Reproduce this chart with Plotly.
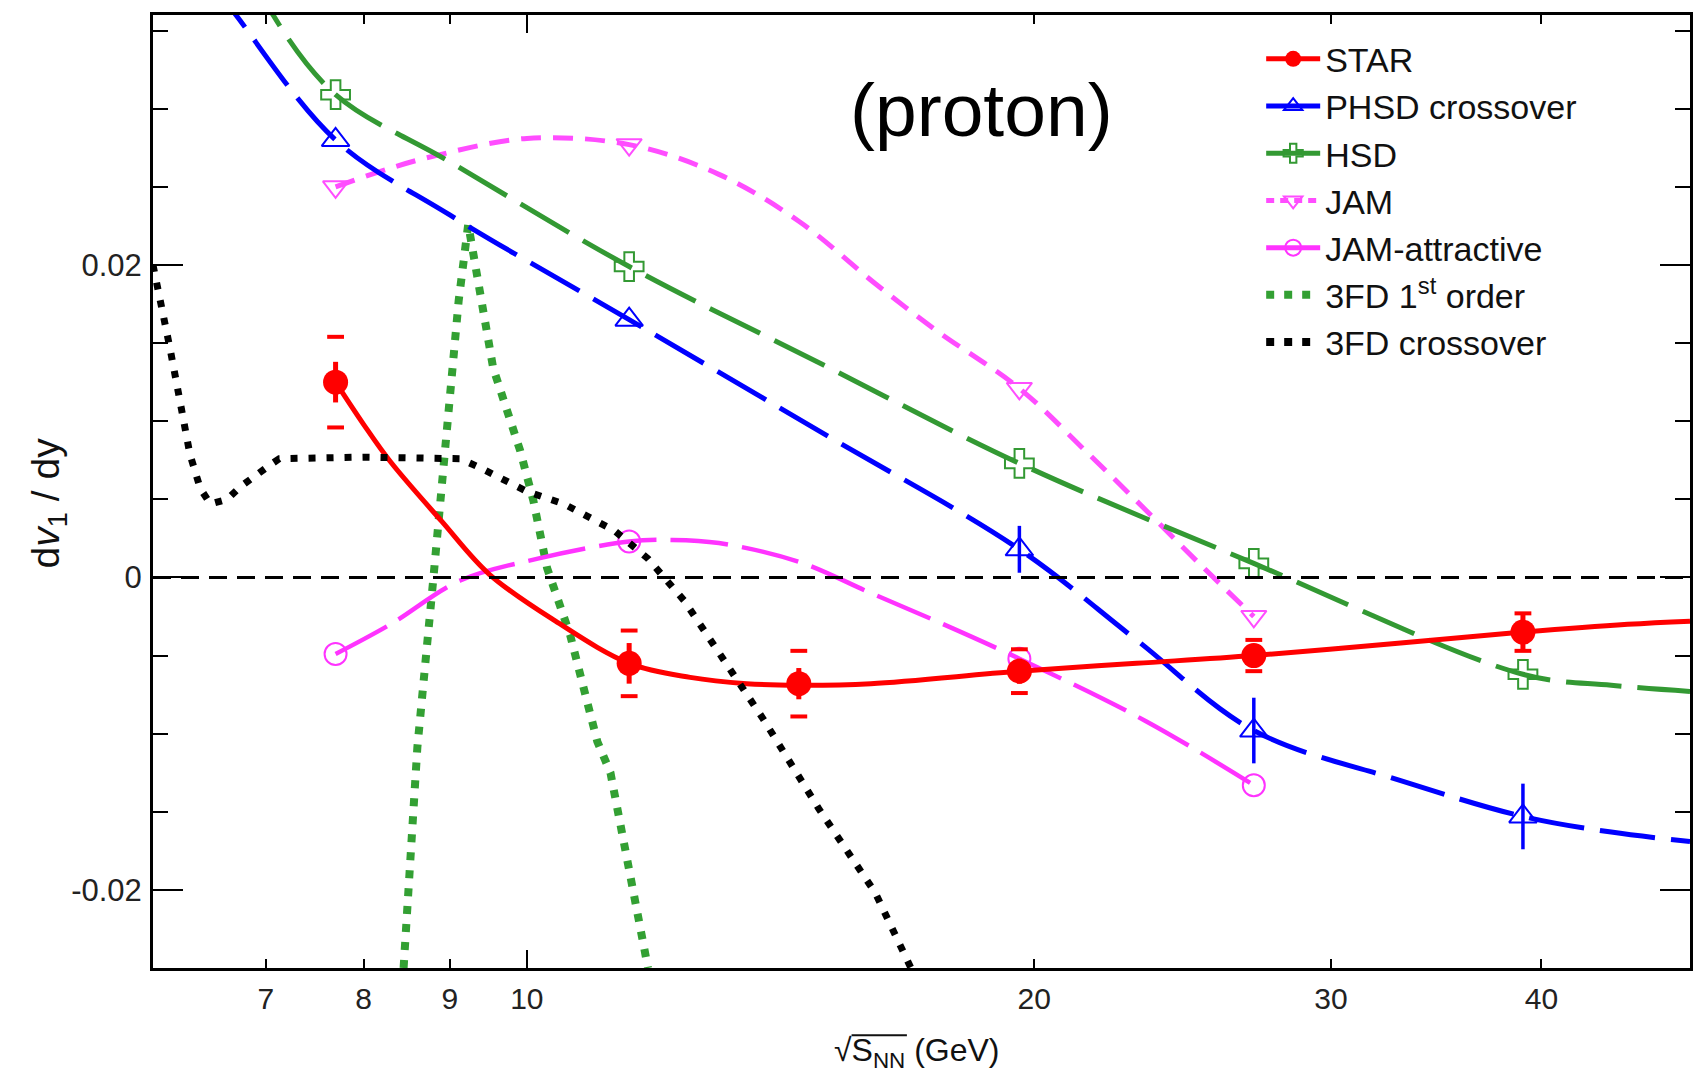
import numpy as np
import plotly.graph_objects as go

# ---------------- data ----------------
energies = [7.7, 11.5, 14.5, 19.6, 27, 39]
star_y = [0.0125, -0.0055, -0.0068, -0.0060, -0.0050, -0.0035]
star_stat = [0.0013, 0.0013, 0.0010, 0.0008, 0.0006, 0.0011]
star_sys = [0.0029, 0.0021, 0.0021, 0.0014, 0.0010, 0.0012]
star_fit_x = [7.7, 8.0, 8.3, 8.9, 9.5, 10.4, 11.5, 12.5, 13.5, 14.5, 16, 19.6, 23, 27, 33, 39, 45, 49]
star_fit_y = [0.0125, 0.0098, 0.0074, 0.0036, 0.0002, -0.0028, -0.0055, -0.0064, -0.0068, -0.0069,
              -0.0068, -0.0060, -0.0055, -0.0050, -0.0042, -0.0035, -0.0030, -0.0028]

model_e = [7.7, 11.5, 19.6, 27, 39]
phsd_y = [0.0280, 0.0165, 0.0018, -0.0098, -0.0153]
phsd_err = [0.0, 0.0, 0.0015, 0.0021, 0.0021]
phsd_curve_x = [6.5, 6.72, 7.7, 9.0, 11.5, 15, 19.6, 23, 27, 33, 39, 44, 49]
phsd_curve_y = [0.0381, 0.0360, 0.0280, 0.0232, 0.0165, 0.0092, 0.0018, -0.0040, -0.0098, -0.0130,
                -0.0153, -0.0163, -0.0169]

hsd_y = [0.0309, 0.0199, 0.0073, 0.0009, -0.0062]
hsd_curve_x = [6.9, 7.07, 7.7, 9.0, 11.5, 15, 19.6, 27, 39, 44, 49]
hsd_curve_y = [0.0385, 0.0360, 0.0309, 0.0266, 0.0199, 0.0136, 0.0073, 0.0009, -0.0062, -0.0069, -0.0073]

jam_e = [7.7, 11.5, 19.6, 27]
jam_y = [0.0250, 0.0277, 0.0121, -0.0025]
jam_curve_x = [7.7, 8.3, 8.83, 10.0, 11.5, 13.0, 14.5, 16.1, 17.5, 19.6, 21.5, 23.3, 25, 27]
jam_curve_y = [0.0250, 0.0262, 0.0270, 0.0281, 0.0277, 0.0258, 0.0228, 0.0188, 0.0158, 0.0121,
               0.0080, 0.0043, 0.0010, -0.0025]

jamatt_y = [-0.0049, 0.0023, -0.0052, -0.0133]
jamatt_curve_x = [7.7, 8.3, 9.13, 10.15, 11.5, 12.2, 13.0, 14.5, 16, 17.5, 19.6, 23.3, 27]
jamatt_curve_y = [-0.0049, -0.0030, -0.0002, 0.0012, 0.0023, 0.0024, 0.0022, 0.0010, -0.0010,
                  -0.0028, -0.0052, -0.0092, -0.0133]

fd1_x = [8.45, 8.61, 8.80, 8.92, 9.04, 9.11, 9.23, 9.38, 9.55, 9.91, 10.09, 10.28, 10.61, 11.01, 11.21, 11.80]
fd1_y = [-0.0250, -0.0109, -0.0001, 0.0074, 0.0134, 0.0177, 0.0226, 0.0180, 0.0134, 0.0081, 0.0049,
         0.0006, -0.0037, -0.0105, -0.0125, -0.0250]

fdx_x = [6.00, 6.09, 6.14, 6.20, 6.25, 6.31, 6.40, 6.49, 6.64, 6.76, 7.02, 7.13, 8.0, 9.13, 9.39,
         10.0, 10.52, 11.27, 11.8, 12.4, 13.8, 14.9, 16.1, 16.9]
fdx_y = [0.0200, 0.0169, 0.0147, 0.0123, 0.0100, 0.0079, 0.0057, 0.0047, 0.0050, 0.0058, 0.0071,
         0.0076, 0.0077, 0.0076, 0.0070, 0.0055, 0.0047, 0.0030, 0.0012, -0.0015, -0.0090, -0.0148,
         -0.0202, -0.0250]

x_ticks = [7, 8, 9, 10, 20, 30, 40]
y_ticks = [-0.02, 0, 0.02]
y_ticktext = ["-0.02", "0", "0.02"]

# ---------------- styles ----------------
RED = "#ff0000"
BLUE = "#0000ff"
GREEN = "#339933"
GREEN_DOT = "#33a033"
JAM_C = "#ff4dff"
JAMATT_C = "#ff33ff"
FONT = "Liberation Sans, Arial, sans-serif"

fig = go.Figure()

# curves
fig.add_trace(go.Scatter(x=fd1_x, y=fd1_y, mode="lines", showlegend=False,
                         line=dict(color=GREEN_DOT, width=8, dash="8px,10px")))
fig.add_trace(go.Scatter(x=jam_curve_x, y=jam_curve_y, mode="lines", showlegend=False,
                         line=dict(color=JAM_C, width=5, dash="20px,12px", shape="spline")))
fig.add_trace(go.Scatter(x=jamatt_curve_x, y=jamatt_curve_y, mode="lines", showlegend=False,
                         line=dict(color=JAMATT_C, width=4.5, dash="58px,14px", shape="spline")))
fig.add_trace(go.Scatter(x=hsd_curve_x, y=hsd_curve_y, mode="lines", showlegend=False,
                         line=dict(color=GREEN, width=5, dash="56px,16px", shape="spline")))
fig.add_trace(go.Scatter(x=phsd_curve_x, y=phsd_curve_y, mode="lines", showlegend=False,
                         line=dict(color=BLUE, width=5, dash="56px,16px", shape="spline")))
fig.add_trace(go.Scatter(x=star_fit_x, y=star_fit_y, mode="lines", showlegend=False,
                         line=dict(color=RED, width=5, shape="spline")))

# model points
fig.add_trace(go.Scatter(x=model_e, y=phsd_y, mode="markers", showlegend=False,
                         marker=dict(symbol="triangle-up-open", size=24, color=BLUE, line=dict(width=2)),
                         error_y=dict(type="data", array=phsd_err, visible=True, color=BLUE,
                                      thickness=3.5, width=0)))
fig.add_trace(go.Scatter(x=model_e, y=hsd_y, mode="markers", showlegend=False,
                         marker=dict(symbol="cross-open", size=24, color=GREEN, line=dict(width=2))))
fig.add_trace(go.Scatter(x=jam_e, y=jam_y, mode="markers", showlegend=False,
                         marker=dict(symbol="triangle-down-open", size=22, color=JAM_C, line=dict(width=2))))
fig.add_trace(go.Scatter(x=jam_e, y=jamatt_y, mode="markers", showlegend=False,
                         marker=dict(symbol="circle-open", size=22, color=JAMATT_C, line=dict(width=2))))

# STAR data
e = np.array(energies)
sy = np.array(star_y)
ss = np.array(star_sys)
fig.add_trace(go.Scatter(x=np.concatenate([e, e]), y=np.concatenate([sy + ss, sy - ss]),
                         mode="markers", showlegend=False,
                         marker=dict(symbol="line-ew", size=12, line=dict(width=4, color=RED))))
fig.add_trace(go.Scatter(x=energies, y=star_y, mode="markers", showlegend=False,
                         marker=dict(symbol="circle", size=25, color=RED),
                         error_y=dict(type="data", array=star_stat, visible=True, color=RED,
                                      thickness=5, width=0)))

# 3FD crossover on top
fig.add_trace(go.Scatter(x=fdx_x, y=fdx_y, mode="lines", showlegend=False,
                         line=dict(color="black", width=7, dash="7px,11px")))

# legend-only entries
leg = [
    ("STAR", dict(color=RED, width=5), dict(symbol="circle", size=22, color=RED), "lines+markers"),
    ("PHSD crossover", dict(color=BLUE, width=5), dict(symbol="triangle-up-open", size=20, color=BLUE, line=dict(width=2)), "lines+markers"),
    ("HSD", dict(color=GREEN, width=5), dict(symbol="cross-open", size=20, color=GREEN, line=dict(width=2)), "lines+markers"),
    ("JAM", dict(color=JAM_C, width=5, dash="8px,6px"), dict(symbol="triangle-down-open", size=20, color=JAM_C, line=dict(width=2)), "lines+markers"),
    ("JAM-attractive", dict(color=JAMATT_C, width=5), dict(symbol="circle-open", size=20, color=JAMATT_C, line=dict(width=2)), "lines+markers"),
    ("3FD 1<sup>st</sup> order", dict(color=GREEN_DOT, width=8, dash="8px,10px"), None, "lines"),
    ("3FD crossover", dict(color="black", width=8, dash="8px,10px"), None, "lines"),
]
for i, (name, ln, mk, mode) in enumerate(leg):
    kw = dict(x=[None], y=[None], mode=mode, name=name, line=ln, legendrank=i + 1)
    if mk is not None:
        kw["marker"] = mk
    fig.add_trace(go.Scatter(**kw))

# zero line
fig.add_shape(type="line", xref="paper", x0=0, x1=1, yref="y", y0=0, y1=0,
              line=dict(color="black", width=3, dash="18px,10px"))

fig.add_annotation(text="(proton)", xref="paper", yref="paper", x=0.539, y=0.900,
                   showarrow=False, font=dict(family=FONT, size=75, color="black"),
                   xanchor="center", yanchor="middle")
fig.add_annotation(text="d<i>v</i><sub>1</sub> / dy", xref="paper", yref="paper", x=-0.068, y=0.488,
                   textangle=-90, showarrow=False, font=dict(family=FONT, size=39, color="#111"),
                   xanchor="center", yanchor="middle")
fig.add_annotation(text="√S<sub>NN</sub> (GeV)",
                   xref="paper", yref="paper", x=0.497, y=-0.089, showarrow=False,
                   font=dict(family=FONT, size=32, color="#111"), xanchor="center", yanchor="middle")
# overline of the square root
fig.add_shape(type="line", xref="paper", yref="paper", x0=0.4545, x1=0.4905, y0=-0.0705, y1=-0.0705,
              line=dict(color="#111", width=2))

fig.update_layout(
    width=1708, height=1076,
    margin=dict(l=153, r=18, t=13, b=108),
    paper_bgcolor="white", plot_bgcolor="white",
    font=dict(family=FONT, color="#222"),
    showlegend=True,
    legend=dict(x=0.721, y=0.984, xanchor="left", yanchor="top", bgcolor="rgba(0,0,0,0)",
                font=dict(family=FONT, size=34, color="#111"), itemwidth=54,
                tracegroupgap=0),
    xaxis=dict(type="log", range=[np.log10(6.0), np.log10(49.0)], showgrid=False, zeroline=False,
               showline=True, linecolor="black", linewidth=3, mirror="allticks",
               ticks="inside", ticklen=9, tickwidth=2, tickcolor="black",
               tickmode="array", tickvals=x_ticks, ticktext=[str(v) for v in x_ticks],
               tickfont=dict(family=FONT, size=30, color="#222"), ticklabelstandoff=2,
               minor=dict(tickmode="array", tickvals=[10], ticklen=18, tickwidth=2,
                          tickcolor="black", ticks="inside")),
    yaxis=dict(range=[-0.025, 0.036], showgrid=False, zeroline=False,
               showline=True, linecolor="black", linewidth=3, mirror="allticks",
               ticks="inside", ticklen=30, tickwidth=2, tickcolor="black",
               tickmode="array", tickvals=y_ticks, ticktext=y_ticktext,
               tickfont=dict(family=FONT, size=31, color="#222"), ticklabelstandoff=2,
               minor=dict(dtick=0.005, tick0=0, ticklen=15, tickwidth=2, tickcolor="black",
                          ticks="inside")),
)

fig.write_html("out.html")
